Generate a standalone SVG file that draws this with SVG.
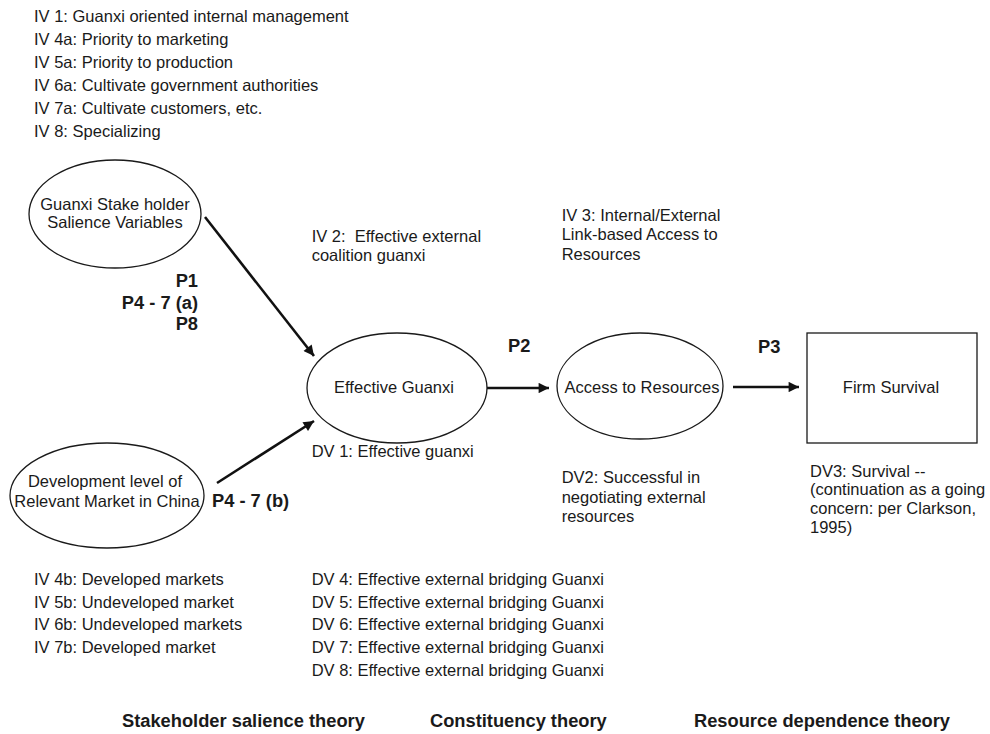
<svg xmlns="http://www.w3.org/2000/svg" width="990" height="734" viewBox="0 0 990 734">
<style>
text{font-family:"Liberation Sans",Arial,Helvetica,sans-serif;font-size:16.5px;fill:#1a1a1a}
.b{font-weight:bold;font-size:18.3px}
.c{text-anchor:middle}
.r{text-anchor:end}
.node{fill:#fff;stroke:#1a1a1a;stroke-width:1.3}
.edge{stroke:#111;stroke-width:2.6;fill:none}
</style>
<defs>
<marker id="ah" viewBox="0 0 10 10" refX="10" refY="5" markerWidth="5" markerHeight="4" markerUnits="strokeWidth" orient="auto">
<path d="M0,0 L10,5 L0,10 z" fill="#111"/>
</marker>
</defs>
<rect width="990" height="734" fill="#fff"/>

<g id="iv-top">
<text x="34" y="21.5">IV 1: Guanxi oriented internal management</text>
<text x="34" y="44.5">IV 4a: Priority to marketing</text>
<text x="34" y="67.5">IV 5a: Priority to production</text>
<text x="34" y="90.5">IV 6a: Cultivate government authorities</text>
<text x="34" y="113.5">IV 7a: Cultivate customers, etc.</text>
<text x="34" y="136.5">IV 8: Specializing</text>
</g>

<g id="connectors">
<line class="edge" x1="205" y1="217" x2="314" y2="356" marker-end="url(#ah)"/>
<line class="edge" x1="217" y1="483" x2="314" y2="421" marker-end="url(#ah)"/>
<line class="edge" x1="483" y1="388" x2="549" y2="388" marker-end="url(#ah)"/>
<line class="edge" x1="733" y1="387" x2="799" y2="387" marker-end="url(#ah)"/>
<text class="b r" x="198" y="287">P1</text>
<text class="b r" x="198" y="309">P4 - 7 (a)</text>
<text class="b r" x="198" y="330">P8</text>
<text class="b" x="212" y="506.5">P4 - 7 (b)</text>
<text class="b" x="508" y="352">P2</text>
<text class="b" x="758" y="353">P3</text>
</g>

<g id="stakeholder">
<ellipse class="node" cx="115" cy="214" rx="86" ry="54"/>
<text class="c" x="115" y="210">Guanxi Stake holder</text>
<text class="c" x="115" y="228">Salience Variables</text>
</g>

<g id="development">
<ellipse class="node" cx="107" cy="495.5" rx="97" ry="52.5"/>
<text class="c" x="105" y="487">Development level of</text>
<text class="c" x="107" y="506.5">Relevant Market in China</text>
</g>

<g id="effective-guanxi">
<ellipse class="node" cx="397" cy="388" rx="90" ry="55"/>
<text class="c" x="394" y="393">Effective Guanxi</text>
</g>

<g id="access">
<ellipse class="node" cx="640" cy="386" rx="83" ry="53"/>
<text class="c" x="642" y="393">Access to Resources</text>
</g>

<g id="firm-survival">
<rect class="node" x="807" y="333" width="170" height="110"/>
<text class="c" x="891" y="393">Firm Survival</text>
</g>

<g id="annotations">
<text x="311.7" y="241.7" xml:space="preserve">IV 2:  Effective external</text>
<text x="311.7" y="260.7">coalition guanxi</text>
<text x="561.7" y="220.7">IV 3: Internal/External</text>
<text x="561.7" y="240">Link-based Access to</text>
<text x="561.7" y="259.5">Resources</text>
<text x="311.7" y="456.5">DV 1: Effective guanxi</text>
<text x="561.7" y="483.3">DV2: Successful in</text>
<text x="561.7" y="502.7">negotiating external</text>
<text x="561.7" y="521.9">resources</text>
<text x="810" y="476.5">DV3: Survival --</text>
<text x="810" y="495.3">(continuation as a going</text>
<text x="810" y="514.2">concern: per Clarkson,</text>
<text x="810" y="533.3">1995)</text>
</g>

<g id="iv-bottom">
<text x="34" y="585">IV 4b: Developed markets</text>
<text x="34" y="607.7">IV 5b: Undeveloped market</text>
<text x="34" y="630.4">IV 6b: Undeveloped markets</text>
<text x="34" y="653.1">IV 7b: Developed market</text>
</g>

<g id="dv-bottom">
<text x="311.7" y="585">DV 4: Effective external bridging Guanxi</text>
<text x="311.7" y="607.7">DV 5: Effective external bridging Guanxi</text>
<text x="311.7" y="630.4">DV 6: Effective external bridging Guanxi</text>
<text x="311.7" y="653.1">DV 7: Effective external bridging Guanxi</text>
<text x="311.7" y="675.8">DV 8: Effective external bridging Guanxi</text>
</g>

<g id="theories">
<text class="b" x="122" y="727">Stakeholder salience theory</text>
<text class="b" x="430" y="727">Constituency theory</text>
<text class="b" x="694" y="727">Resource dependence theory</text>
</g>
</svg>
